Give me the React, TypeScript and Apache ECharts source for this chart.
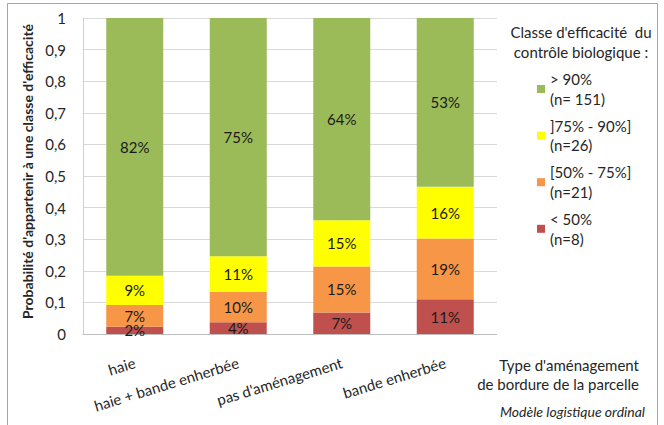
import React, { useEffect, useRef } from "react";
import * as echarts from "echarts";

const categories = ["haie", "haie + bande enherbée", "pas d'aménagement", "bande enherbée"];
const seriesNames = ["< 50%\n(n=8)", "[50% - 75%]\n(n=21)", "]75% - 90%]\n(n=26)", "> 90%\n(n= 151)"];
const redValues = [0.023, 0.037, 0.068, 0.110];
const orangeValues = [0.069, 0.097, 0.146, 0.192];
const yellowValues = [0.092, 0.112, 0.146, 0.164];
const greenValues = [0.816, 0.754, 0.640, 0.534];
const colors = ["#C0504D", "#F79646", "#FFFF00", "#9BBB59"];
const yTickLabels: Record<string, string> = {
  "0": "0", "0.1": "0,1", "0.2": "0,2", "0.3": "0,3", "0.4": "0,4", "0.5": "0,5",
  "0.6": "0,6", "0.7": "0,7", "0.8": "0,8", "0.9": "0,9", "1": "1",
};

const FONT = "Lato, 'Noto Sans', sans-serif";

export default function App() {
  const ref = useRef<HTMLDivElement>(null);
  useEffect(() => {
    document.body.style.margin = "0";
    if (!ref.current) return;
    const chart = echarts.init(ref.current, undefined, { renderer: "svg" });
    const allValues = [redValues, orangeValues, yellowValues, greenValues];
    const LH = 19.5;
    chart.setOption({
      animation: false,
      textStyle: { fontFamily: FONT },
      grid: { left: 83, right: 167, top: 18, bottom: 91, containLabel: false },
      legend: {
        orient: "vertical",
        left: 537,
        top: 59.75,
        padding: 0,
        itemWidth: 8,
        itemHeight: 8,
        itemGap: -11.9,
        icon: "rect",
        data: [seriesNames[3], seriesNames[2], seriesNames[1], seriesNames[0]],
        textStyle: { fontFamily: FONT, fontSize: 15, color: "#262626", lineHeight: LH, padding: [LH, 0, 0, 0] },
      },
      xAxis: {
        type: "category",
        data: categories,
        axisLine: { show: true, lineStyle: { color: "#BFBFBF" } },
        axisTick: { show: false },
        axisLabel: {
          rotate: 17,
          margin: 28,
          fontFamily: FONT,
          fontSize: 15,
          color: "#262626",
          interval: 0,
        },
      },
      yAxis: {
        type: "value",
        min: 0,
        max: 1,
        interval: 0.1,
        name: "Probabilité d'appartenir à une classe d'efficacité",
        nameLocation: "middle",
        nameGap: 49,
        nameTextStyle: { fontFamily: FONT, fontSize: 14, fontWeight: "bold", color: "#262626", padding: [0, 0, 0, 9] },
        axisLine: { show: true, lineStyle: { color: "#D0D0D0" } },
        axisTick: { show: false },
        splitLine: { lineStyle: { color: "#D9D9D9" } },
        axisLabel: {
          margin: 17,
          fontFamily: FONT,
          fontSize: 15,
          color: "#262626",
          formatter: (v: number) => yTickLabels[String(Math.round(v * 10) / 10)] ?? String(v),
        },
      },
      series: seriesNames.map((name, i) => ({
        name,
        type: "bar",
        stack: "total",
        barWidth: 57,
        data: allValues[i],
        itemStyle: { color: colors[i] },
        label: {
          show: true,
          position: "inside",
          fontFamily: FONT,
          fontSize: 15,
          lineHeight: 15,
          color: "#1a1a1a",
          formatter: (p: any) => Math.round(p.value * 100) + "%",
        },
      })),
      graphic: [
        {
          type: "rect",
          shape: { x: 7.5, y: 3.5, width: 650, height: 440 },
          style: { fill: "none", stroke: "#A6A6A6", lineWidth: 1 },
          silent: true,
        },
        {
          type: "text",
          x: 581,
          y: 21.7,
          style: {
            text: "Classe d'efficacité  du\ncontrôle biologique :",
            align: "center",
            verticalAlign: "top",
            fontFamily: FONT,
            fontSize: 15,
            lineHeight: 20,
            fill: "#262626",
          },
        },
        {
          type: "text",
          x: 639,
          y: 355,
          style: {
            text: "Type d'aménagement\nde bordure de la parcelle",
            align: "right",
            verticalAlign: "top",
            fontFamily: FONT,
            fontSize: 15,
            lineHeight: 19.5,
            fill: "#262626",
          },
        },
        {
          type: "text",
          x: 645,
          y: 411,
          style: {
            text: "Modèle logistique ordinal",
            align: "right",
            verticalAlign: "middle",
            fontFamily: FONT,
            fontSize: 14,
            fontStyle: "italic",
            fill: "#262626",
          },
        },
      ],
    });
    return () => chart.dispose();
  }, []);
  return <div ref={ref} style={{ width: 664, height: 425 }} />;
}
